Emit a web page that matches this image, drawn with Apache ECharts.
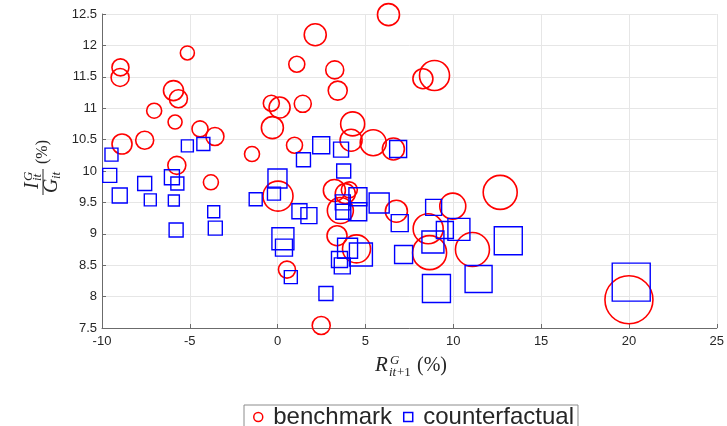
<!DOCTYPE html>
<html>
<head>
<meta charset="utf-8">
<script src="https://cdn.jsdelivr.net/npm/echarts@6/dist/echarts.min.js"></script>
<style>
  html, body { margin: 0; padding: 0; background: #fff; }
  #chart { width: 727px; height: 426px; }
</style>
</head>
<body>
<div id="chart"></div>
<script>
// Benchmark economy: return R (x, %), investment ratio I/G (y, %), marker weight
const benchX = [-8.95, -8.97, -8.86, -7.57, -7.03, -5.93, -5.65, -5.84, -5.14, -4.42,
  -3.57, -5.74, -3.80, -1.46, -0.36, 0.11, -0.30, 1.09, 1.43, 0.96,
  2.14, 6.31, 3.25, 3.42, 8.27, 8.93, 4.27, 4.18, 5.44, 6.59,
  3.23, 3.85, 4.08, 3.57, 6.76, 8.57, 9.97, 12.67, 8.65, 11.09,
  3.38, 4.49, 2.48, 0.02, 0.53, 20.0];
const benchY = [11.65, 11.49, 10.43, 10.49, 10.96, 11.28, 11.15, 10.78, 11.88, 10.67,
  10.55, 10.09, 9.82, 10.27, 11.08, 11.01, 10.69, 11.70, 11.07, 10.41,
  12.17, 12.49, 11.61, 11.28, 11.47, 11.52, 10.75, 10.49, 10.45, 10.35,
  9.69, 9.64, 9.70, 9.37, 9.36, 9.08, 9.44, 9.66, 8.70, 8.75,
  8.97, 8.76, 7.54, 9.60, 8.43, 7.95];
const benchW = [8.5, 9, 10, 9, 7.5, 10, 9, 7, 7, 8,
  9, 9, 7.5, 7.5, 8, 10.5, 11, 8, 8.5, 8,
  11, 11, 9, 9.5, 10, 15, 12, 11, 13, 11,
  11, 10, 8, 13, 11, 15, 13, 17, 17, 17,
  10, 14, 9, 15, 8.5, 24];

// Counterfactual economy
const cfX = [-9.46, -9.56, -8.99, -7.57, -7.25, -6.02, -5.71, -5.91, -5.78, -5.14,
  -4.23, -3.64, -3.55, -1.25, -0.01, -0.21, 0.30, 0.36, 0.75, 1.24,
  1.78, 1.47, 2.48, 3.61, 3.76, 6.86, 3.71, 3.74, 4.57, 4.56,
  5.78, 6.95, 8.88, 8.84, 9.52, 10.32, 7.17, 9.04, 11.44, 2.75,
  13.13, 20.13, 3.52, 3.68, 3.98, 4.74];
const cfY = [10.26, 9.93, 9.61, 9.80, 9.54, 9.90, 9.80, 9.53, 9.06, 10.40,
  10.43, 9.35, 9.09, 9.55, 9.88, 9.64, 8.92, 8.78, 8.31, 9.36,
  9.29, 10.18, 10.41, 10.34, 10.00, 10.35, 9.50, 9.35, 9.59, 9.35,
  9.49, 9.17, 9.42, 8.87, 9.06, 9.07, 8.67, 8.13, 8.28, 8.05,
  8.89, 8.23, 8.59, 8.49, 8.77, 8.67];
const cfW = [6.5, 7, 7.5, 7, 6, 7.5, 6.5, 5.5, 7, 6,
  6.5, 6, 7, 6.5, 9.5, 6.5, 11, 8.5, 6.5, 7.5,
  8, 7, 8.5, 7.5, 7, 8.5, 7.5, 7.5, 9, 9,
  10, 8.5, 8, 11, 8.5, 11, 9, 14, 13.5, 7,
  14, 19, 8, 8, 10, 11.5];

// Axis limits and tick step
const xRange = [-10, 25, 5];
const yRange = [7.5, 12.5, 0.5];

const seriesNames = ['benchmark', 'counterfactual'];

const zip = (xs, ys, ws) => xs.map((x, i) => [x, ys[i], ws[i]]);
const weightToPx = w => w[2] * 2;

const axisColor = '#6b6b6b';
const labelColor = '#262626';
const gridColor = '#e6e6e6';
const uiFont = '"Liberation Sans", Arial, Helvetica, sans-serif';
const mathFont = '"Liberation Serif", "Times New Roman", serif';

// small helper for math-style title pieces (positioned by their vertical middle)
const mtext = (text, x, y, size, italic) => ({
  type: 'text', x: x, y: y,
  style: {
    text: text,
    font: (italic ? 'italic ' : '') + size + 'px ' + mathFont,
    fill: labelColor, align: 'left', verticalAlign: 'middle'
  }
});

const chart = echarts.init(document.getElementById('chart'), null, { renderer: 'canvas' });

const axisCommon = {
  axisLine: { show: true, onZero: false, lineStyle: { color: axisColor, width: 1 } },
  axisTick: { show: true, inside: true, length: 4, lineStyle: { color: axisColor } },
  splitLine: { show: true, lineStyle: { color: gridColor, width: 1 } },
  axisLabel: { color: labelColor, fontSize: 13, fontFamily: uiFont }
};

chart.setOption({
  animation: false,
  backgroundColor: '#fff',
  grid: { left: 102, right: 8, top: 14, height: 314, containLabel: false },
  xAxis: Object.assign({}, axisCommon, {
    type: 'value', min: xRange[0], max: xRange[1], interval: xRange[2],
    axisLabel: Object.assign({}, axisCommon.axisLabel, { margin: 7 })
  }),
  yAxis: Object.assign({}, axisCommon, {
    type: 'value', min: yRange[0], max: yRange[1], interval: yRange[2],
    axisLabel: Object.assign({}, axisCommon.axisLabel, { margin: 5 })
  }),
  legend: {
    left: 244, top: 405,
    orient: 'horizontal',
    padding: [0, 4, 8, 9],
    itemGap: 11,
    itemWidth: 20, itemHeight: 9,
    borderColor: '#8c8c8c', borderWidth: 1,
    backgroundColor: '#fff',
    selectedMode: false,
    textStyle: { fontSize: 24, fontFamily: uiFont, color: labelColor },
    data: [
      { name: seriesNames[0], icon: 'circle',
        itemStyle: { color: 'rgba(0,0,0,0)', borderColor: '#ff0000', borderWidth: 1.5 } },
      { name: seriesNames[1], icon: 'path://M0,0H10V10H0Z',
        itemStyle: { color: 'rgba(0,0,0,0)', borderColor: '#0000ff', borderWidth: 1.5 } }
    ]
  },
  graphic: [
    // y-axis title: I^G_it / G_it (%), reading bottom to top
    {
      type: 'group', x: 43, y: 182, rotation: Math.PI / 2, silent: true,
      children: [
        { type: 'line', shape: { x1: -13, y1: 0, x2: 13, y2: 0 },
          style: { stroke: labelColor, lineWidth: 1 } },
        mtext('I', -7, -10, 20, true),
        mtext('G', 1, -14.5, 13, true),
        mtext('it', 1, -5, 13, true),
        mtext('G', -11, 9, 20, true),
        mtext('it', 3, 14, 13, true),
        mtext('(%)', 18, 0, 16, false)
      ]
    },
    // x-axis title: R^G_{it+1}(%)
    {
      type: 'group', x: 375, y: 0, silent: true,
      children: [
        mtext('R', 0, 365.5, 21, true),
        mtext('G', 15, 361, 13, true),
        mtext('it', 14, 372.5, 13, true),
        mtext('+1', 22, 372.5, 13, false),
        mtext('(%)', 42, 365.5, 20, false)
      ]
    }
  ],
  series: [
    {
      name: seriesNames[0],
      type: 'scatter',
      symbol: 'circle',
      symbolSize: weightToPx,
      data: zip(benchX, benchY, benchW),
      itemStyle: { color: 'rgba(0,0,0,0)', borderColor: '#ff0000', borderWidth: 1.6, opacity: 1 },
      emphasis: { disabled: true }
    },
    {
      name: seriesNames[1],
      type: 'scatter',
      symbol: 'rect',
      symbolSize: weightToPx,
      data: zip(cfX, cfY, cfW),
      itemStyle: { color: 'rgba(0,0,0,0)', borderColor: '#0000ff', borderWidth: 1.4, opacity: 1 },
      emphasis: { disabled: true }
    }
  ]
});
</script>
</body>
</html>
